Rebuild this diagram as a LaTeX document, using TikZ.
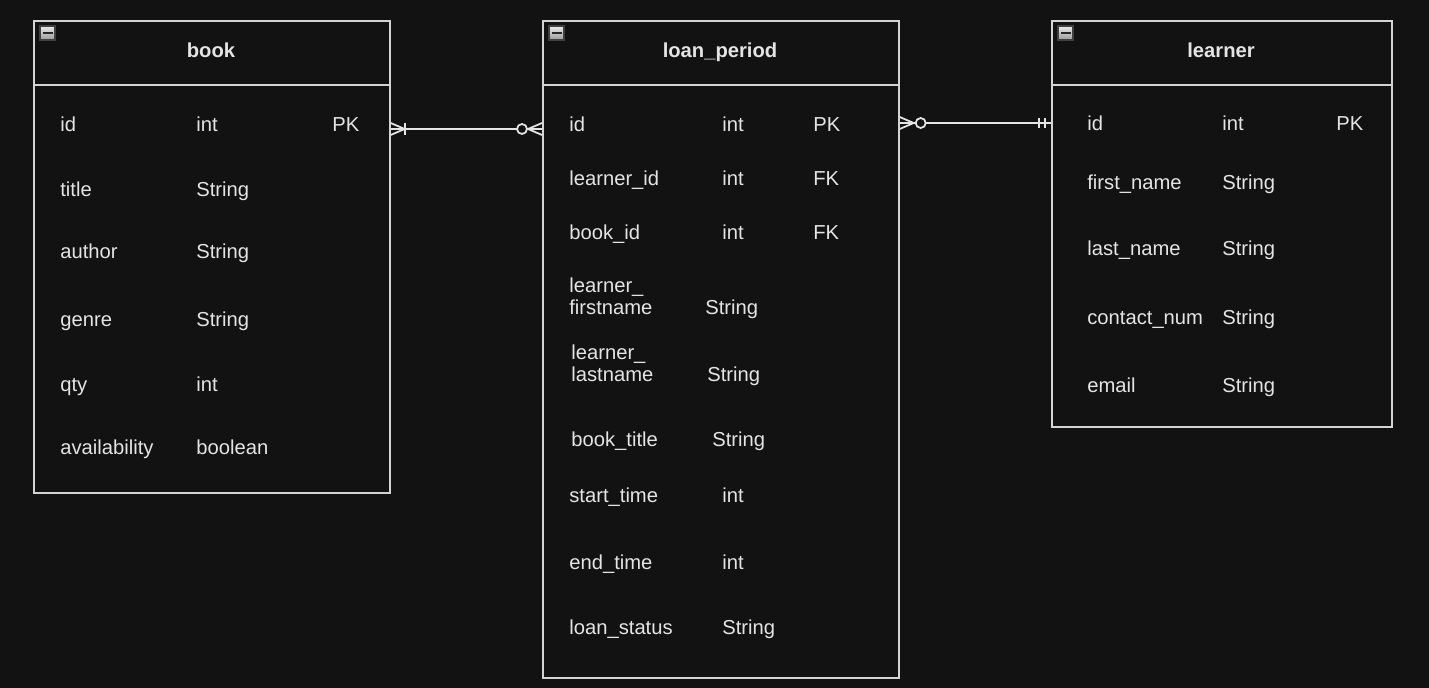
\documentclass[tikz,border=0pt]{standalone}
\usepackage{fontspec}
\setmainfont{Liberation Sans}
\usetikzlibrary{calc}
\definecolor{canvas}{HTML}{121212}
\definecolor{edge}{HTML}{D4D4D4}
\definecolor{ink}{HTML}{E4E4E4}
\tikzset{
  tbl/.style={draw=edge, line width=1pt, inner sep=0pt, anchor=north west},
  ttl/.style={text=ink, font=\bfseries\fontsize{11.5}{13}\selectfont, anchor=base},
  fld/.style={text=ink, font=\fontsize{11.5}{13}\selectfont, anchor=base west, inner sep=0pt, align=left},
  icn/.style={draw=black!75, line width=0.6pt, minimum width=0.3cm, minimum height=0.28cm, inner sep=0pt,
    top color=white!85!gray, bottom color=gray!80!white},
  rel/.style={draw=ink, line width=1pt},
}

\begin{document}
\begin{tikzpicture}[x=0.02cm, y=-0.02cm]
			%%%%% START %%%%%
			
			\fill[canvas] (0, 0) rectangle (1429, 688);
			
			% tables
			\node[tbl, minimum width=7.12cm, minimum height=9.44cm] (book) at (33, 20) {};
			\node[tbl, minimum width=7.12cm, minimum height=13.14cm] (loan) at (542, 20) {};
			\node[tbl, minimum width=6.8cm, minimum height=8.12cm] (learner) at (1051, 20) {};
			
			\draw[edge, line width=1pt] (book.west |- 0, 85) -- (book.east |- 0, 85);
			\draw[edge, line width=1pt] (loan.west |- 0, 85) -- (loan.east |- 0, 85);
			\draw[edge, line width=1pt] (learner.west |- 0, 85) -- (learner.east |- 0, 85);
			
			\node[ttl] (booktitle) at (211, 58) {book};
			\node[ttl] (loantitle) at (720, 58) {loan\_period};
			\node[ttl] (learnertitle) at (1221, 58) {learner};
			
			% collapse icons
			\foreach \t in {book, loan, learner} {
				\node[icn] (\t icon) at ($(\t.north west)+(14.5, 13)$) {};
				\draw[black!85, line width=1.1pt] ($(\t icon.center)+(-5, 0)$) -- ($(\t icon.center)+(5, 0)$);
			}
			
			% book fields
			\foreach \f/\t/\k/\y [count=\i] in {id/int/PK/132, title/String//197, author/String//259,
				genre/String//327, qty/int//392, availability/boolean//455} {
				\node[fld] (book-n\i) at (60, \y) {\f};
				\node[fld] (book-t\i) at (196, \y) {\t};
				\node[fld] (book-k\i) at (332, \y) {\k};
			}
			
			% loan_period fields
			\foreach \f/\xf/\t/\xt/\k/\y [count=\i] in {id/569/int/722/PK/132, learner\_id/569/int/722/FK/186,
				book\_id/569/int/722/FK/240, book\_title/571/String/712//447, start\_time/569/int/722//503,
				end\_time/569/int/722//569, loan\_status/569/String/722//634} {
				\node[fld] (loan-n\i) at (\xf, \y) {\f};
				\node[fld] (loan-t\i) at (\xt, \y) {\t};
				\node[fld] (loan-k\i) at (813, \y) {\k};
			}
			\node[fld] (loan-fn) at (569, 315) {learner\_\\firstname};
			\node[fld] (loan-fnt) at (705, 315) {String};
			\node[fld] (loan-ln) at (571, 382) {learner\_\\lastname};
			\node[fld] (loan-lnt) at (707, 382) {String};
			
			% learner fields
			\foreach \f/\t/\k/\y [count=\i] in {id/int/PK/131, first\_name/String//190, last\_name/String//256,
				contact\_num/String//325, email/String//393} {
				\node[fld] (learner-n\i) at (1087, \y) {\f};
				\node[fld] (learner-t\i) at (1222, \y) {\t};
				\node[fld] (learner-k\i) at (1336, \y) {\k};
			}
			
			% book -- loan_period
			\coordinate (bkR) at ($(book.north east)+(0, 109)$);
			\coordinate (lpL) at ($(loan.north west)+(0, 109)$);
			\draw[rel] (bkR) -- (lpL);
			\draw[rel] ($(bkR)+(0, -6)$) -- ($(bkR)+(14, 0)$) -- ($(bkR)+(0, 6)$);
			\draw[rel] ($(bkR)+(14, -6)$) -- ($(bkR)+(14, 6)$);
			\draw[rel] ($(lpL)+(0, -6)$) -- ($(lpL)+(-14, 0)$) -- ($(lpL)+(0, 6)$);
			\draw[rel, fill=canvas] ($(lpL)+(-20, 0)$) circle (5);
			
			% loan_period -- learner
			\coordinate (lpR) at ($(loan.north east)+(0, 103)$);
			\coordinate (lnL) at ($(learner.north west)+(0, 103)$);
			\draw[rel] (lpR) -- (lnL);
			\draw[rel] ($(lpR)+(0, -6)$) -- ($(lpR)+(14, 0)$) -- ($(lpR)+(0, 6)$);
			\draw[rel, fill=canvas] ($(lpR)+(21, 0)$) circle (5);
			\draw[rel] ($(lnL)+(-12, -5)$) -- ($(lnL)+(-12, 5)$);
			\draw[rel] ($(lnL)+(-6, -5)$) -- ($(lnL)+(-6, 5)$);
			
			%%%%% END %%%%%
\end{tikzpicture}
\end{document}
